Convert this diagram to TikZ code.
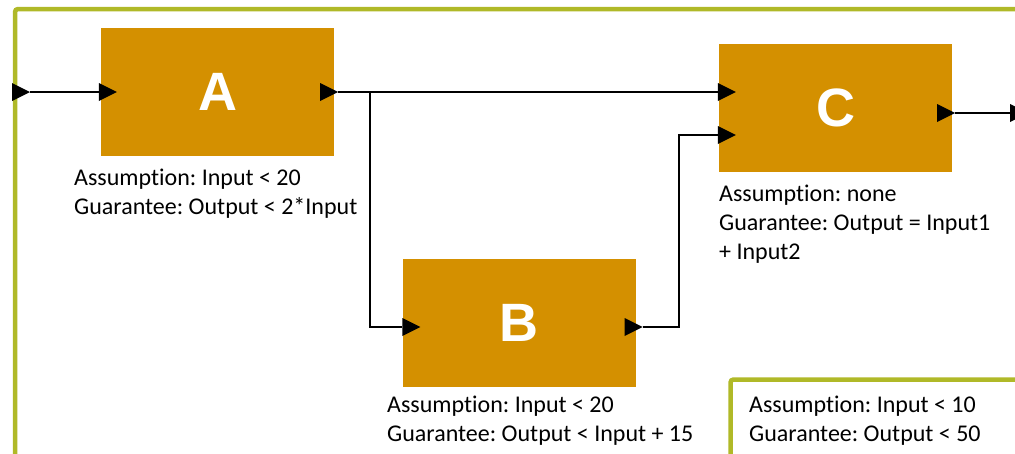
\documentclass[tikz,border=0pt]{standalone}
\usepackage{fontspec}
\setmainfont{Carlito}[Ligatures={NoCommon}]
\newfontfamily\boxfont{Liberation Sans}
\frenchspacing
\begin{document}
\definecolor{blockfill}{RGB}{212,144,0}
\definecolor{framecol}{RGB}{176,185,40}
\begin{tikzpicture}[x=1pt,y=-1pt,
  block/.style={fill=blockfill,draw=none,minimum width=233pt,minimum height=128pt,
    inner sep=0pt,text=white,font=\boxfont\bfseries\fontsize{54}{54}\selectfont},
  note/.style={anchor=north west,inner sep=0pt,align=left,
    font=\fontsize{24}{29}\selectfont},
  wire/.style={line width=2pt,line join=miter},
  framewall/.style={draw=framecol,line width=4.5pt,rounded corners=3pt},
  port/.pic={\fill (0,0) -- (-18,-9) -- (-18,9) -- cycle;}]
\clip (0,0) rectangle (1015,453);
% container frames
\draw[framewall] (15,470) -- (15,9) -- (1040,9);
\draw[framewall] (730.5,470) -- (730.5,379.5) -- (1040,379.5);
% blocks
\node[block] (A) at (217.5,92) {A};
\node[block] (B) at (519,323) {B};
\node[block] (C) at (835.5,108) {C};
% contract notes
\node[note] (nA) at (74,169) {Assumption: Input < 20\\Guarantee: Output < 2*Input};
\node[note] (nB) at (387,396) {Assumption: Input < 20\\Guarantee: Output < Input + 15};
\node[note] (nC) at (719,185) {Assumption: none\\Guarantee: Output = Input1\\+ Input2};
\node[note] (nS) at (749,396) {Assumption: Input < 10\\Guarantee: Output < 50};
% port positions
\coordinate (inL) at (30,92);
\coordinate (outR) at (1010,113);
\coordinate (Ain) at ([xshift=-1pt]A.west);
\coordinate (Aout) at ([xshift=4pt]A.east);
\coordinate (Bin) at ([yshift=-4pt]B.west);
\coordinate (Bout) at ([xshift=7pt,yshift=-4pt]B.east);
\coordinate (Cin1) at ([yshift=16pt]C.west);
\coordinate (Cin2) at ([yshift=-27pt]C.west);
\coordinate (Cout) at ([xshift=3pt,yshift=-5pt]C.east);
\coordinate (split) at (370,92);
% connectors
\draw[wire] (inL) -- (Ain);
\draw[wire] (Aout) -- (Cin1);
\draw[wire] (split) |- (Bin);
\draw[wire] (Bout) -- ++(36,0) |- (Cin2);
\draw[wire] (Cout) -- (outR);
% port triangles
\pic at (inL) {port};
\pic at ([xshift=17pt]Ain) {port};
\pic at (Aout) {port};
\pic at ([xshift=18pt]Bin) {port};
\pic at (Bout) {port};
\pic at ([xshift=17pt]Cin1) {port};
\pic at ([xshift=17pt]Cin2) {port};
\pic at (Cout) {port};
\pic at ([xshift=18pt]outR) {port};
\end{tikzpicture}
\end{document}
